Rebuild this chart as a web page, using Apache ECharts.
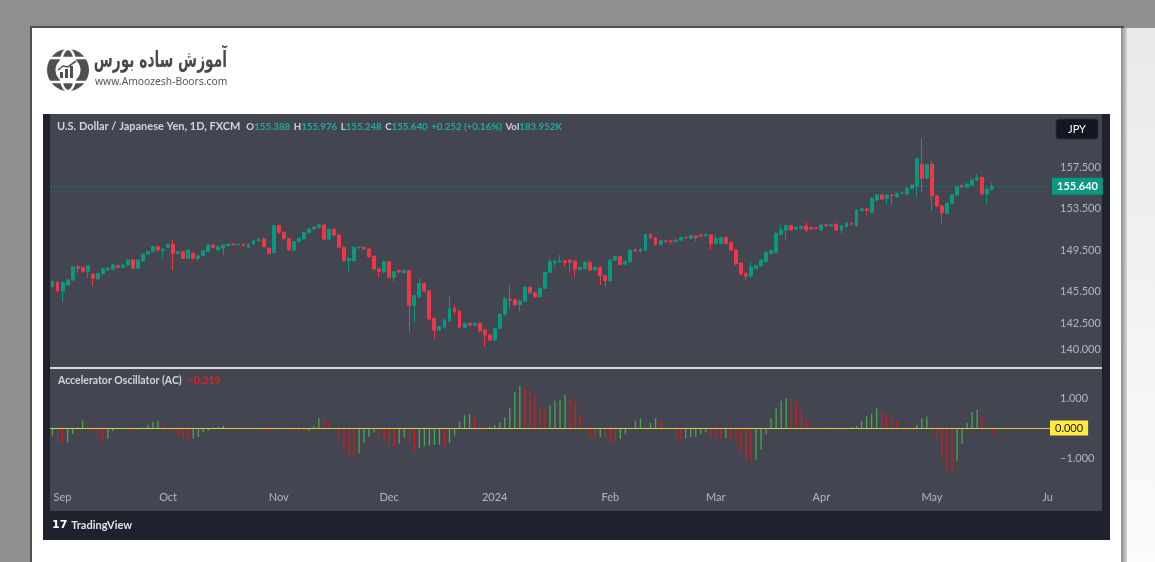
<!DOCTYPE html>
<html><head><meta charset="utf-8">
<script src="https://cdn.jsdelivr.net/npm/echarts@6/dist/echarts.min.js"></script>
<style>html,body{margin:0;padding:0;background:#8f8f8f}#c{width:1155px;height:562px}</style>
</head><body><div id="c"></div>
<script>
// [open, close, low, high] per trading day, starting 2023-08-30
const ohlc = [
[146.00,146.45,145.90,146.60],[146.41,145.58,145.45,146.55],[145.58,146.41,144.55,146.50],[146.15,146.64,146.05,146.75],
[146.64,147.92,146.55,148.00],[147.92,147.76,147.28,148.05],[147.82,147.44,147.35,147.95],[147.44,148.01,146.80,148.10],
[147.17,146.80,146.09,147.30],[146.73,147.28,146.65,147.35],[147.24,147.69,147.15,147.80],[147.60,147.76,147.50,147.90],
[147.66,148.08,147.55,148.20],[148.01,147.85,147.75,148.10],[147.85,148.08,147.80,148.20],[148.08,148.56,148.00,148.65],
[148.56,147.76,147.70,148.70],[147.76,148.56,147.70,148.62],[148.46,149.13,148.40,149.20],[149.13,149.36,149.05,149.45],
[149.36,149.84,149.30,149.90],[149.84,149.52,149.45,149.90],[149.50,149.60,148.72,149.70],[149.78,150.07,149.70,150.15],
[150.09,149.20,147.60,150.49],[149.20,149.36,149.10,149.45],[149.36,148.72,148.65,149.45],[148.72,149.52,148.60,149.60],
[149.20,148.72,148.60,149.30],[148.72,148.97,148.45,149.05],[148.97,149.42,148.90,149.50],[149.36,150.00,149.30,150.07],
[150.00,149.78,149.70,150.07],[149.52,149.84,149.45,149.90],[149.68,150.00,149.04,150.07],[149.94,150.09,149.85,150.15],
[150.09,150.00,149.95,150.15],[150.03,150.07,149.98,150.12],[150.07,149.94,149.88,150.12],[149.78,150.07,149.70,150.12],
[150.09,150.39,150.03,150.45],[150.39,150.58,150.30,150.70],[150.58,149.84,149.78,150.70],[149.68,149.20,149.10,149.75],
[149.26,151.86,149.20,151.93],[151.86,151.22,151.10,151.95],[151.22,150.64,150.50,151.30],[150.64,149.52,149.45,150.70],
[149.52,150.33,149.45,150.40],[150.33,150.64,150.25,150.70],[150.58,151.22,150.50,151.30],[151.19,151.51,151.10,151.60],
[151.54,151.70,151.45,151.80],[151.70,151.93,151.60,152.00],[151.93,150.55,150.45,152.05],[150.55,151.51,150.40,151.60],
[151.51,150.96,150.85,151.60],[150.96,149.78,149.70,151.05],[149.78,148.49,148.40,149.85],[148.49,148.72,147.44,148.80],
[148.49,149.78,148.40,149.85],[149.75,149.80,149.60,149.90],[149.78,149.62,149.50,149.85],[149.62,148.88,148.80,149.70],
[148.94,147.69,147.60,149.00],[147.69,147.44,146.96,147.80],[147.44,148.40,147.30,148.50],[148.39,146.89,146.80,148.50],
[146.89,147.43,146.41,147.50],[147.53,147.43,147.30,147.65],[147.37,147.53,147.25,147.65],[147.53,144.16,141.60,147.65],
[144.16,145.13,142.56,145.25],[145.03,146.31,144.90,146.86],[146.31,145.57,145.45,146.40],[145.57,142.88,142.80,145.65],
[142.95,141.82,140.96,143.05],[141.82,142.14,141.70,142.25],[142.08,142.79,141.95,142.90],[142.72,143.91,142.60,145.13],
[143.91,143.59,143.27,144.23],[143.65,142.08,141.95,143.75],[142.08,142.46,141.95,142.55],[142.46,142.30,142.20,142.55],
[142.30,142.46,142.20,142.56],[142.46,141.73,141.60,142.56],[141.82,141.34,140.22,141.95],[141.34,140.86,140.75,141.45],
[140.86,141.98,140.75,142.10],[141.98,143.33,141.90,143.45],[143.33,144.80,143.20,145.03],[144.80,144.70,143.91,146.15],
[144.71,144.23,144.10,144.85],[144.23,144.61,143.59,144.75],[144.61,145.93,144.50,146.05],[145.93,145.41,145.30,146.05],
[145.41,145.03,144.90,145.50],[145.03,145.83,144.95,145.95],[145.83,147.37,145.75,147.45],[147.37,148.39,147.30,148.78],
[148.30,148.39,147.91,148.62],[148.40,148.46,148.30,149.04],[148.46,148.33,147.91,148.55],[148.55,148.33,147.43,148.62],
[148.46,147.66,146.95,148.55],[147.66,147.85,147.55,147.95],[147.75,148.33,147.65,148.45],[148.33,147.59,147.50,148.45],
[147.59,147.85,147.50,147.95],[147.85,147.05,146.15,147.95],[147.05,146.57,145.99,147.15],[146.57,148.55,146.45,148.65],
[148.55,148.88,148.45,149.00],[148.88,148.14,148.05,149.00],[148.14,148.39,148.05,148.50],[148.39,149.52,148.30,149.60],
[149.52,149.45,149.35,149.65],[149.42,149.58,149.30,149.70],[149.52,151.02,149.40,151.10],[151.02,150.70,150.60,151.10],
[150.70,150.06,149.95,150.80],[150.06,150.41,149.95,150.50],[150.40,150.35,150.25,150.50],[150.41,150.32,150.06,150.50],
[150.32,150.48,150.25,150.55],[150.48,150.73,150.40,150.80],[150.73,150.68,150.60,150.80],[150.64,150.89,150.55,150.95],
[150.86,150.70,150.38,150.95],[150.96,150.87,150.80,151.05],[150.90,151.03,150.80,151.10],[150.96,150.09,149.52,151.05],
[150.16,150.64,150.05,151.03],[150.16,150.71,150.05,150.80],[150.71,150.16,150.05,150.80],[150.26,149.52,149.40,150.35],
[149.52,148.17,148.05,149.60],[148.27,147.21,147.10,148.35],[147.28,147.02,146.64,147.35],[147.02,147.85,146.80,148.40],
[147.76,148.02,147.65,148.10],[147.98,148.56,147.90,148.65],[148.40,149.30,148.30,149.40],[149.20,149.46,149.10,149.55],
[149.30,151.12,149.20,151.20],[151.03,151.45,150.95,151.99],[151.45,151.86,150.48,151.95],[151.86,151.45,151.35,151.95],
[151.54,151.70,151.45,151.80],[151.60,151.80,151.50,151.90],[151.83,151.45,151.22,152.18],[151.67,151.54,151.45,151.75],
[151.67,151.60,151.50,151.75],[151.45,151.93,151.35,152.00],[151.93,151.83,151.75,152.00],[151.83,151.99,151.75,152.05],
[151.99,151.45,151.35,152.09],[151.45,151.86,151.03,151.95],[151.76,152.09,151.70,152.18],[152.09,151.99,151.90,152.18],
[151.86,153.37,151.80,153.45],[153.30,153.46,153.20,153.55],[153.46,153.34,152.89,153.55],[153.14,154.49,153.05,154.60],
[154.33,154.81,154.25,154.90],[154.81,154.42,154.35,154.90],[154.49,154.81,153.85,154.90],[154.81,154.75,153.85,154.88],
[154.65,154.97,154.55,155.05],[154.95,155.00,154.88,155.10],[154.91,155.45,154.85,155.55],[155.45,155.77,155.35,155.85],
[155.71,158.27,154.65,158.49],[157.76,156.41,155.13,160.20],[156.41,157.76,156.30,157.85],[157.76,154.71,153.27,158.08],
[154.71,153.75,153.65,154.80],[153.75,153.11,152.09,153.85],[153.05,154.01,152.95,154.10],[154.01,154.81,153.90,154.90],
[154.81,155.61,154.70,155.70],[155.71,155.61,155.45,155.80],[155.55,155.86,155.45,155.95],[155.77,156.25,155.70,156.35],
[156.25,156.48,156.15,156.80],[156.51,154.91,154.80,156.60],[154.91,155.388,153.85,155.50],[155.388,155.640,155.248,155.976]
];
const acValues = [
-0.25,-0.45,-0.5,-0.48,-0.2,0.02,0.25,0.08,-0.1,-0.3,-0.45,-0.35,-0.1,-0.03,0.0,-0.02,-0.12,-0.05,0.02,0.1,
0.22,0.25,0.15,-0.05,-0.15,-0.3,-0.35,-0.4,-0.35,-0.3,-0.15,-0.08,-0.02,0.03,0.07,0.05,0.02,-0.02,-0.05,-0.03,
-0.01,-0.04,-0.08,-0.1,-0.05,-0.02,-0.04,-0.06,-0.05,-0.1,-0.2,-0.1,0.07,0.33,0.3,0.18,0.02,-0.35,-0.7,-0.95,
-0.97,-0.85,-0.5,-0.3,-0.15,-0.25,-0.38,-0.55,-0.62,-0.52,-0.32,-0.5,-0.78,-0.68,-0.6,-0.58,-0.56,-0.55,-0.62,-0.5,
-0.25,0.2,0.43,0.47,0.3,0.1,0.02,0.05,0.1,0.18,0.35,0.65,1.2,1.4,1.35,1.28,1.08,0.72,0.63,0.77,
0.91,0.93,1.1,1.02,0.83,0.43,0.02,-0.31,-0.34,-0.31,-0.33,-0.46,-0.51,-0.37,-0.2,-0.02,0.24,0.32,0.11,0.17,
0.32,0.19,0.08,-0.03,-0.28,-0.42,-0.34,-0.31,-0.28,-0.2,-0.14,-0.28,-0.34,-0.39,-0.34,-0.42,-0.5,-0.79,-1.06,-1.12,
-1.06,-0.72,-0.2,0.33,0.66,0.91,1.0,0.97,0.88,0.63,0.32,0.1,-0.07,-0.08,0.02,-0.01,0.01,-0.07,-0.05,0.03,
0.06,0.24,0.38,0.47,0.66,0.61,0.47,0.36,0.22,0.04,-0.06,-0.09,0.11,0.32,0.38,0.11,-0.31,-0.98,-1.42,-1.48,
-1.09,-0.53,0.17,0.54,0.61,0.39,-0.05,-0.219
];
const priceTicks = [140, 142.5, 145.5, 149.5, 153.5, 157.5];
const acTicks = [-1, 1];
const lastVolume = '183.952K';
const monthNames = ['2024','Feb','Mar','Apr','May','Ju','Jul','Aug','Sep','Oct','Nov','Dec'];

// trading-day categories (weekdays) 2023-08-30 .. 2024-06-03
const dates = [];
for (let t = Date.UTC(2023,7,30); t <= Date.UTC(2024,5,3); t += 86400000) {
  const wd = new Date(t).getUTCDay();
  if (wd > 0 && wd < 6) dates.push(new Date(t).toISOString().slice(0,10));
}
const monthOf = s => parseInt(s.slice(5,7),10) - 1;
const isMonthStart = i => i > 0 && monthOf(dates[i]) !== monthOf(dates[i-1]);

const UP = '#089981', DOWN = '#f23645';
const AC_UP = '#4aa84e', AC_DOWN = '#cf1d1d';
const last = ohlc[ohlc.length-1];
const prevClose = ohlc[ohlc.length-2][1];
const chg = last[1] - prevClose;
const pct = chg / prevClose * 100;
const fmtSigned = v => (v >= 0 ? '+' : '−') + Math.abs(v).toFixed(3);
const acLast = acValues[acValues.length-1];

const acData = acValues.map((v,i) => ({
  value: v,
  itemStyle: { color: (i === 0 || v > acValues[i-1]) ? AC_UP : AC_DOWN }
}));

const FONT = 'Lato';
const nS = { color: '#d1d4dc', fontSize: 11, fontFamily: FONT };
const lS = { color: '#d1d4dc', fontSize: 9.7, fontFamily: FONT, padding: [0, 0, 0, 3.5] };
const gS = { color: '#22ab94', fontSize: 9.7, fontFamily: FONT };
const gpS = { color: '#22ab94', fontSize: 9.7, fontFamily: FONT, padding: [0, 0, 0, 3.5] };

const chart = echarts.init(document.getElementById('c'), null, {renderer:'canvas'});
chart.setOption({
  backgroundColor: '#8f8f8f',
  animation: false,
  textStyle: { fontFamily: FONT },
  title: [
    { left: 57, top: 121, padding: 0,
      text: '{n|U.S. Dollar / Japanese Yen, 1D, FXCM}{l| O}{g|' + last[0].toFixed(3) + '}{l|H}{g|' + last[3].toFixed(3) +
            '}{l|L}{g|' + last[2].toFixed(3) + '}{l|C}{g|' + last[1].toFixed(3) + '}{gp|' + (chg>=0?'+':'−') + Math.abs(chg).toFixed(3) +
            ' (' + (pct>=0?'+':'−') + Math.abs(pct).toFixed(2) + '%)}{l|Vol}{g|' + lastVolume + '}',
      textStyle: { rich: { n: nS, l: lS, g: gS, gp: gpS } } },
    { left: 58, top: 375, padding: 0,
      text: '{n|Accelerator Oscillator (AC)}{r|' + fmtSigned(acLast) + '}',
      textStyle: { rich: { n: { color: '#d1d4dc', fontSize: 10.5, fontFamily: FONT },
                           r: { color: '#e0201c', fontSize: 10.5, fontFamily: FONT, padding: [0, 0, 0, 6] } } } },
    { left: 52, top: 520, padding: 0,
      text: '{b|17}{n|TradingView}',
      textStyle: { rich: { b: { color: '#ffffff', fontSize: 11, fontWeight: 900, fontFamily: 'DejaVu Sans' },
                           n: { color: '#e0e3eb', fontSize: 11, fontFamily: FONT, padding: [0, 0, 0, 4] } } } }
  ],
  graphic: [
    { type: 'rect', z: -10, shape: { x: 30, y: 26, width: 1094, height: 536 }, style: { fill: '#ffffff' } },
    { type: 'rect', z: -9, shape: { x: 30, y: 26, width: 2, height: 536 }, style: { fill: '#4f4f4f' } },
    { type: 'rect', z: -9, shape: { x: 30, y: 26, width: 1094, height: 2 }, style: { fill: '#4f4f4f' } },
    { type: 'rect', z: -9, shape: { x: 1121, y: 28, width: 6, height: 534 },
      style: { fill: new echarts.graphic.LinearGradient(0,0,1,0,[{offset:0,color:'#8c8c8c'},{offset:1,color:'#d6d6d6'}]) } },
    { type: 'rect', z: -9, shape: { x: 1127, y: 28, width: 28, height: 534 },
      style: { fill: new echarts.graphic.LinearGradient(0,0,0,1,[{offset:0,color:'#e9e9e9'},{offset:1,color:'#fbfbfb'}]) } },
    { type: 'rect', z: -8, shape: { x: 43, y: 114, width: 1067, height: 426 }, style: { fill: '#1e222d' } },
    { type: 'rect', z: -7, shape: { x: 50, y: 114, width: 1052, height: 397 }, style: { fill: '#434651' } },
    { type: 'rect', z: 5, shape: { x: 50, y: 367, width: 1052, height: 2 }, style: { fill: '#d6d8de' } },
    // JPY button
    { type: 'rect', z: 5, shape: { x: 1056, y: 119, width: 42, height: 20, r: 3 }, style: { fill: '#131722', stroke: '#2a2e39', lineWidth: 1 } },
    { type: 'text', z: 6, style: { x: 1077, y: 129, text: 'JPY', textAlign: 'center', textVerticalAlign: 'middle', fill: '#ffffff', font: '11px ' + FONT } },
    // logo globe
    { type: 'circle', z: 1, shape: { cx: 68, cy: 70, r: 21 }, style: { fill: '#505050' } },
    { type: 'ellipse', z: 2, shape: { cx: 68, cy: 70, rx: 8, ry: 21 }, style: { fill: 'none', stroke: '#ffffff', lineWidth: 2.5 } },
    { type: 'line', z: 2, shape: { x1: 49, y1: 58, x2: 87, y2: 58 }, style: { stroke: '#ffffff', lineWidth: 2.5 } },
    { type: 'line', z: 2, shape: { x1: 49, y1: 82, x2: 87, y2: 82 }, style: { stroke: '#ffffff', lineWidth: 2.5 } },
    { type: 'circle', z: 3, shape: { cx: 68, cy: 70, r: 12.5 }, style: { fill: '#ffffff' } },
    { type: 'rect', z: 4, shape: { x: 60, y: 72, width: 3, height: 6 }, style: { fill: '#505050' } },
    { type: 'rect', z: 4, shape: { x: 65, y: 69, width: 3, height: 9 }, style: { fill: '#505050' } },
    { type: 'rect', z: 4, shape: { x: 70, y: 66, width: 3, height: 12 }, style: { fill: '#505050' } },
    { type: 'polyline', z: 4, shape: { points: [[58,70],[63,66],[68,67],[76,61]] }, style: { stroke: '#505050', lineWidth: 1.6, fill: 'none' } },
    { type: 'text', z: 4, x: 227, y: 61, scaleX: 0.6, scaleY: 1, originX: 0, originY: 0,
      style: { x: 0, y: 0, text: 'آموزش ساده بورس', textAlign: 'right', textVerticalAlign: 'middle', fill: '#4a4a4a', font: 'bold 23px "DejaVu Sans"' } },
    { type: 'text', z: 4, style: { x: 95, y: 82, text: 'www.Amoozesh-Boors.com', textAlign: 'left', textVerticalAlign: 'middle', fill: '#555555', font: '10.3px "Noto Sans"' } }
  ],
  grid: [
    { left: 50, right: 105, top: 114, height: 254 },
    { left: 50, right: 105, top: 370, height: 115 }
  ],
  xAxis: [
    { type: 'category', gridIndex: 0, data: dates, boundaryGap: true,
      axisLine: { show: false }, axisTick: { show: false }, axisLabel: { show: false }, splitLine: { show: false } },
    { type: 'category', gridIndex: 1, data: dates, boundaryGap: true,
      axisLine: { show: false }, axisTick: { show: false }, splitLine: { show: false },
      axisLabel: { color: '#b2b5be', fontSize: 11, fontFamily: FONT, margin: 7,
        interval: (i) => isMonthStart(i),
        formatter: (v) => monthNames[monthOf(v)] } }
  ],
  yAxis: [
    { type: 'value', gridIndex: 0, position: 'right', min: 138.173, max: 162.596,
      axisLine: { show: false }, axisTick: { show: false }, splitLine: { show: false },
      axisLabel: { customValues: priceTicks, formatter: v => v.toFixed(3), color: '#b2b5be', fontSize: 11, fontFamily: FONT, margin: 10 } },
    { type: 'value', gridIndex: 1, position: 'right', min: -1.9, max: 1.9333,
      axisLine: { show: false }, axisTick: { show: false }, splitLine: { show: false },
      axisLabel: { customValues: acTicks, formatter: v => (v < 0 ? '−' : '') + Math.abs(v).toFixed(3), color: '#b2b5be', fontSize: 11, fontFamily: FONT, margin: 10 } }
  ],
  series: [
    { type: 'candlestick', xAxisIndex: 0, yAxisIndex: 0, data: ohlc, barWidth: 3.4,
      itemStyle: { color: UP, color0: DOWN, borderColor: UP, borderColor0: DOWN, borderWidth: 1 },
      markLine: { symbol: 'none', silent: true, animation: false,
        data: [{ yAxis: last[1] }],
        lineStyle: { color: UP, type: [1, 3], width: 1 },
        label: { show: true, position: 'end', distance: 2, formatter: last[1].toFixed(3),
          color: '#ffffff', backgroundColor: UP, padding: [3, 5], fontSize: 11, fontWeight: 'bold', fontFamily: FONT } } },
    { type: 'bar', xAxisIndex: 1, yAxisIndex: 1, data: acData, barWidth: 1.3,
      markLine: { symbol: 'none', silent: true, animation: false,
        data: [{ yAxis: 0 }],
        lineStyle: { color: '#d9cc3c', type: 'solid', width: 1.2 },
        label: { show: true, position: 'end', distance: 0, formatter: '0.000',
          color: '#131722', backgroundColor: '#ffeb3b', padding: [2, 5], fontSize: 11, fontFamily: FONT } } }
  ]
});
</script></body></html>
